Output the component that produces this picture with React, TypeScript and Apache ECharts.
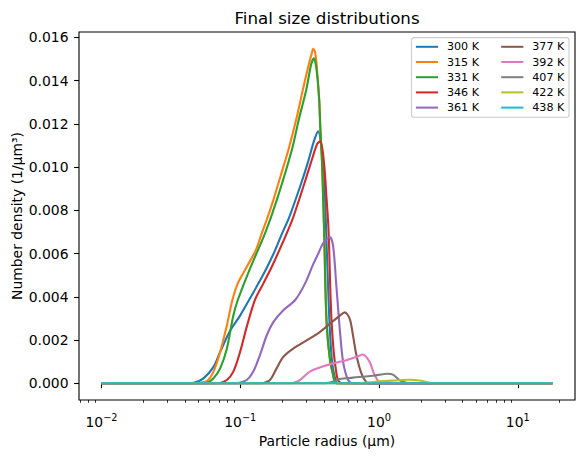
import React, { useEffect, useRef } from 'react';
import * as echarts from 'echarts';

const FONT = '"DejaVu Sans", "Liberation Sans", sans-serif';

// Temperatures of the runs, in legend order
const temperatures = ['300 K', '315 K', '331 K', '346 K', '361 K', '377 K', '392 K', '407 K', '422 K', '438 K'];
const palette = ['#1f77b4', '#ff7f0e', '#2ca02c', '#d62728', '#9467bd', '#8c564b', '#e377c2', '#7f7f7f', '#bcbd22', '#17becf'];

// Final distributions: [particle radius (µm), number density (1/µm³)]
const dist300: [number, number][] = [
  [0.01, 0], [0.04, 0], [0.046, 0.00002], [0.0543, 0.00023], [0.0641, 0.00076], [0.0716, 0.00145],
  [0.0846, 0.00244], [0.0997, 0.00313], [0.1157, 0.00385], [0.1352, 0.00462], [0.1566, 0.00539],
  [0.1784, 0.00616], [0.2005, 0.00694], [0.2259, 0.0077], [0.2749, 0.00925], [0.3083, 0.01025],
  [0.3404, 0.01122], [0.364, 0.01165], [0.387, 0.01076], [0.403, 0.00939], [0.413, 0.00756],
  [0.4275, 0.00481], [0.4416, 0.00252], [0.46, 0.00092], [0.482, 0.00023], [0.5, 0], [17.78, 0],
];
const dist315: [number, number][] = [
  [0.01, 0], [0.045, 0], [0.0498, 0.00002], [0.0574, 0.0001], [0.0641, 0.00054], [0.0716, 0.00145],
  [0.08, 0.00267], [0.0877, 0.00385], [0.096, 0.00462], [0.1115, 0.00539], [0.1294, 0.00616],
  [0.143, 0.00694], [0.1579, 0.0077], [0.1733, 0.00848], [0.1883, 0.00925], [0.2047, 0.01002],
  [0.2222, 0.01079], [0.2553, 0.0123], [0.2822, 0.01356], [0.3133, 0.0148], [0.326, 0.0152],
  [0.335, 0.01547], [0.345, 0.01534], [0.3551, 0.01473], [0.3697, 0.0132], [0.3782, 0.01168],
  [0.3888, 0.01015], [0.3953, 0.00862], [0.4018, 0.0071], [0.4178, 0.00298], [0.4416, 0.00115],
  [0.4667, 0.00038], [0.4927, 0], [17.78, 0],
];
const dist331: [number, number][] = [
  [0.01, 0], [0.055, 0], [0.0574, 0.00001], [0.0641, 0.00023], [0.0716, 0.00069], [0.08, 0.0016],
  [0.0891, 0.00313], [0.096, 0.00385], [0.1191, 0.00539], [0.151, 0.00694], [0.1834, 0.00848],
  [0.2352, 0.01079], [0.2641, 0.0122], [0.2972, 0.0135], [0.3245, 0.01475], [0.3388, 0.01503],
  [0.352, 0.01465], [0.3697, 0.0132], [0.3782, 0.01168], [0.3888, 0.01015], [0.3953, 0.00862],
  [0.4018, 0.0071], [0.4178, 0.00298], [0.4416, 0.00115], [0.4667, 0.00038], [0.4927, 0], [17.78, 0],
];
const dist346: [number, number][] = [
  [0.01, 0], [0.068, 0], [0.0716, 0.00001], [0.08, 0.00015], [0.0891, 0.00054], [0.0997, 0.00145],
  [0.1114, 0.00262], [0.1274, 0.00385], [0.1468, 0.00462], [0.1687, 0.00539], [0.1914, 0.00616],
  [0.2165, 0.00694], [0.2415, 0.0077], [0.29, 0.00925], [0.3266, 0.0103], [0.3583, 0.01107],
  [0.3782, 0.01119], [0.4018, 0.01015], [0.4178, 0.00862], [0.4324, 0.0071], [0.454, 0.00298],
  [0.4874, 0.00069], [0.5358, 0], [17.78, 0],
];
const dist361: [number, number][] = [
  [0.01, 0], [0.093, 0], [0.0968, 0.00001], [0.1114, 0.00015], [0.1241, 0.00054], [0.1386, 0.0013],
  [0.1549, 0.00221], [0.173, 0.00283], [0.2042, 0.00338], [0.2487, 0.00385], [0.2933, 0.00462],
  [0.335, 0.0055], [0.365, 0.006], [0.3953, 0.00647], [0.4416, 0.00676], [0.4667, 0.00634],
  [0.4927, 0.0045], [0.521, 0.00252], [0.5509, 0.00099], [0.5984, 0.00015], [0.6494, 0], [17.78, 0],
];
const dist377: [number, number][] = [
  [0.01, 0], [0.14, 0], [0.1465, 0.00001], [0.1637, 0.00015], [0.1828, 0.00069], [0.2042, 0.00122],
  [0.2405, 0.0016], [0.3006, 0.00198], [0.374, 0.00237], [0.4416, 0.00275], [0.521, 0.00313],
  [0.5664, 0.00328], [0.6152, 0.00298], [0.6494, 0.00221], [0.6871, 0.0013], [0.7464, 0.00046],
  [0.811, 0.00005], [0.86, 0], [17.78, 0],
];
const dist392: [number, number][] = [
  [0.01, 0], [0.235, 0], [0.2405, 0.00001], [0.2692, 0.00015], [0.3169, 0.00054], [0.374, 0.00073],
  [0.4667, 0.00092], [0.5823, 0.00107], [0.6871, 0.00122], [0.7656, 0.00133], [0.8551, 0.00099],
  [0.929, 0.00038], [1.0093, 0.00003], [1.06, 0], [17.78, 0],
];
const dist407: [number, number][] = [
  [0.01, 0], [0.41, 0], [0.47, 0.00008], [0.521, 0.0002], [0.6494, 0.00026], [0.9036, 0.00035],
  [1.1585, 0.00044], [1.2589, 0.0004], [1.406, 0.00015], [1.571, 0.00002], [1.65, 0], [17.78, 0],
];
const dist422: [number, number][] = [
  [0.01, 0], [0.7, 0], [0.85, 0.00004], [1.0, 0.00009], [1.3, 0.00013], [1.66, 0.00016],
  [1.96, 0.00013], [2.2, 0.00006], [2.45, 0], [17.78, 0],
];
const dist438: [number, number][] = [
  [0.01, 0], [17.78, 0],
];

const distributions = [dist300, dist315, dist331, dist346, dist361, dist377, dist392, dist407, dist422, dist438];

// Axis ticks
const xMajorTicks = [0.01, 0.1, 1, 10];
const xMinorTicks = [
  0.007, 0.008, 0.009,
  0.02, 0.03, 0.04, 0.05, 0.06, 0.07, 0.08, 0.09,
  0.2, 0.3, 0.4, 0.5, 0.6, 0.7, 0.8, 0.9,
  2, 3, 4, 5, 6, 7, 8, 9,
  20,
];
const yTicks = [0, 0.002, 0.004, 0.006, 0.008, 0.01, 0.012, 0.014, 0.016];

// Axis limits (5% padding in log-x and linear-y)
const X_MIN = Math.pow(10, -2.1625);
const X_MAX = Math.pow(10, 1.4125);
const Y_MIN = -0.000773;
const Y_MAX = 0.016243;

// Plot frame
const G_LEFT = 79;
const G_TOP = 32;
const G_W = 496;
const G_H = 368;

function buildOption(): echarts.EChartsOption {
  // "10" with the exponent raised as a superscript
  const powerLabel = (v: number) => {
    const e = Math.round(Math.log10(v));
    return '{b|10}{s|' + (e < 0 ? '\u2212' + Math.abs(e) : String(e)) + '}';
  };

  const legendCommon = {
    orient: 'vertical' as const,
    padding: 0,
    icon: 'rect',
    itemWidth: 22.2,
    itemHeight: 2,
    itemGap: 3.2,
    selectedMode: false,
    textStyle: { fontFamily: FONT, fontSize: 11.1, color: '#000', lineHeight: 12, padding: [0, 0, 0, 3.9] },
  };

  return {
    animation: false,
    color: palette,
    grid: {
      left: G_LEFT, top: G_TOP, width: G_W, height: G_H,
      show: true, borderColor: '#000', borderWidth: 1.1, backgroundColor: 'transparent',
    },
    xAxis: [
      {
        type: 'log',
        logBase: 10,
        min: X_MIN,
        max: X_MAX,
        position: 'bottom',
        axisLine: { show: false },
        splitLine: { show: false },
        axisTick: { show: true, customValues: xMajorTicks, length: 4.9, lineStyle: { color: '#000', width: 1.1 } },
        axisLabel: {
          show: true,
          customValues: xMajorTicks,
          margin: 12,
          formatter: (v: number) => powerLabel(v),
          rich: {
            b: { fontFamily: FONT, fontSize: 13.9, color: '#000' },
            s: { fontFamily: FONT, fontSize: 9.8, color: '#000', padding: [0, 0, 9, 0] },
          },
        },
      },
      {
        type: 'log',
        logBase: 10,
        min: X_MIN,
        max: X_MAX,
        position: 'bottom',
        axisLine: { show: false },
        splitLine: { show: false },
        axisLabel: { show: false },
        axisTick: { show: true, customValues: xMinorTicks, length: 2.8, lineStyle: { color: '#000', width: 0.8 } },
      },
    ],
    yAxis: {
      type: 'value',
      min: Y_MIN,
      max: Y_MAX,
      axisLine: { show: false },
      splitLine: { show: false },
      axisTick: { show: true, customValues: yTicks, length: 4.9, lineStyle: { color: '#000', width: 1.1 } },
      axisLabel: {
        show: true,
        customValues: yTicks,
        margin: 10.5,
        fontFamily: FONT,
        fontSize: 13.9,
        color: '#000',
        formatter: (v: number) => v.toFixed(3),
      },
    },
    legend: [
      { ...legendCommon, left: 415.9, top: 40.8, data: temperatures.slice(0, 5) },
      { ...legendCommon, left: 501.2, top: 40.8, data: temperatures.slice(5) },
    ],
    graphic: [
      {
        type: 'rect',
        x: 411.5,
        y: 37.6,
        z: 0,
        shape: { x: 0, y: 0, width: 157.5, height: 79.6, r: 2.5 },
        style: { fill: 'rgba(255,255,255,0.8)', stroke: '#cccccc', lineWidth: 1.1 },
      },
      {
        type: 'text',
        x: G_LEFT + G_W / 2,
        y: 17.5,
        style: { text: 'Final size distributions', font: `16.7px ${FONT}`, fill: '#000', align: 'center', verticalAlign: 'middle' },
      },
      {
        type: 'text',
        x: G_LEFT + G_W / 2,
        y: 441,
        style: { text: 'Particle radius (µm)', font: `13.9px ${FONT}`, fill: '#000', align: 'center', verticalAlign: 'middle' },
      },
      {
        type: 'text',
        x: 17,
        y: G_TOP + G_H / 2,
        rotation: Math.PI / 2,
        style: { text: 'Number density (1/µm³)', font: `13.9px ${FONT}`, fill: '#000', align: 'center', verticalAlign: 'middle' },
      },
    ],
    series: distributions.map((d, i) => ({
      name: temperatures[i],
      type: 'line' as const,
      xAxisIndex: 0,
      data: d,
      showSymbol: false,
      smooth: 0.3,
      lineStyle: { width: 2.1, color: palette[i] },
      itemStyle: { color: palette[i] },
      emphasis: { disabled: true },
    })),
  };
}

export default function App() {
  const ref = useRef<HTMLDivElement>(null);
  useEffect(() => {
    if (!ref.current) return;
    const chart = echarts.init(ref.current, null, { renderer: 'svg' });
    chart.setOption(buildOption());
    return () => chart.dispose();
  }, []);
  return (
    <div
      ref={ref}
      style={{ position: 'fixed', left: 0, top: 0, width: 584, height: 459, background: '#fff' }}
    />
  );
}
